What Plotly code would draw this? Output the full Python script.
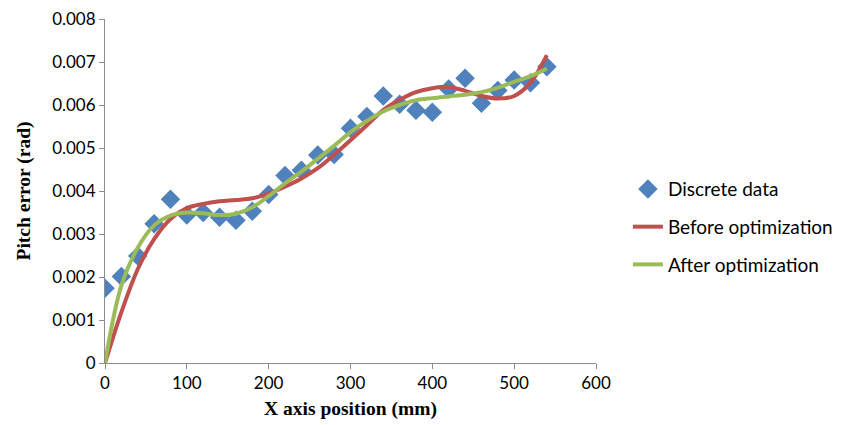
import plotly.graph_objects as go

# Discrete measured data
x_data = [0, 20, 40, 60, 80, 100, 120, 140, 160, 180, 200, 220, 240, 260,
          280, 300, 320, 340, 360, 380, 400, 420, 440, 460, 480, 500, 520, 540]
y_data = [0.00174, 0.00201, 0.00249, 0.00324, 0.00381, 0.00344, 0.00350, 0.00339,
          0.00332, 0.00353, 0.00392, 0.00436, 0.00448, 0.00484, 0.00485, 0.00546,
          0.00573, 0.00621, 0.00602, 0.00588, 0.00583, 0.00637, 0.00662, 0.00604,
          0.00634, 0.00658, 0.00652, 0.00689]

# Fitted curves
x_curve = x_data
y_before = [0.0, 0.00118, 0.00218, 0.00288, 0.00335, 0.00360, 0.00370, 0.00376,
            0.00379, 0.00383, 0.00394, 0.00410, 0.00429, 0.00453, 0.00484, 0.00518,
            0.00553, 0.00588, 0.00612, 0.00630, 0.00639, 0.00642, 0.00633, 0.00621,
            0.00615, 0.00621, 0.00652, 0.00716]
y_after = [0.0, 0.00180, 0.00268, 0.00320, 0.00343, 0.00350, 0.00348, 0.00344,
           0.00347, 0.00362, 0.00388, 0.00418, 0.00445, 0.00475, 0.00505, 0.00537,
           0.00563, 0.00585, 0.00600, 0.00611, 0.00616, 0.00620, 0.00624, 0.00630,
           0.00640, 0.00654, 0.00667, 0.00685]

x_ticks = [0, 100, 200, 300, 400, 500, 600]
y_ticks = [0, 0.001, 0.002, 0.003, 0.004, 0.005, 0.006, 0.007, 0.008]
y_ticktext = ["0", "0.001", "0.002", "0.003", "0.004", "0.005", "0.006", "0.007", "0.008"]

fig = go.Figure()
fig.add_trace(go.Scatter(
    x=x_data, y=y_data, mode="markers", name="Discrete data", legendgroup="a",
    marker=dict(symbol="diamond", size=15, color="#4F81BD"),
))
fig.add_trace(go.Scatter(
    x=x_curve, y=y_before, mode="lines", name="Before optimization", legendgroup="b",
    line=dict(color="#C0504D", width=4, shape="spline", smoothing=1.0),
))
fig.add_trace(go.Scatter(
    x=x_curve, y=y_after, mode="lines", name="After optimization", legendgroup="c",
    line=dict(color="#9BBB59", width=4, shape="spline", smoothing=1.0),
))

axis_common = dict(
    showgrid=False, zeroline=False, showline=True, linecolor="#8C8C8C", linewidth=1,
    ticks="outside", ticklen=5, tickcolor="#8C8C8C", automargin=False,
    tickfont=dict(family="Lato, Noto Sans, sans-serif", size=17, color="#000000"),
)

title_font = dict(family="Liberation Serif, Times New Roman, serif", size=19.5, color="#000000")

fig.update_layout(
    width=856, height=425,
    margin=dict(l=105, r=260, t=19, b=62),
    paper_bgcolor="white", plot_bgcolor="white",
    xaxis=dict(range=[0, 600], tickvals=x_ticks, **axis_common,
               title=dict(text="<b>X axis position (mm)</b>", standoff=8, font=title_font)),
    yaxis=dict(range=[0, 0.008], tickvals=y_ticks, ticktext=y_ticktext, **axis_common,
               title=dict(text="<b>Pitch error (rad)</b>", standoff=16, font=title_font)),
    legend=dict(x=1.065, y=0.395, yanchor="middle", xanchor="left",
                traceorder="grouped", tracegroupgap=10,
                font=dict(family="Lato, Noto Sans, sans-serif", size=19, color="#000000"),
                bgcolor="rgba(0,0,0,0)"),
    showlegend=True,
)

fig.write_html("out.html")
